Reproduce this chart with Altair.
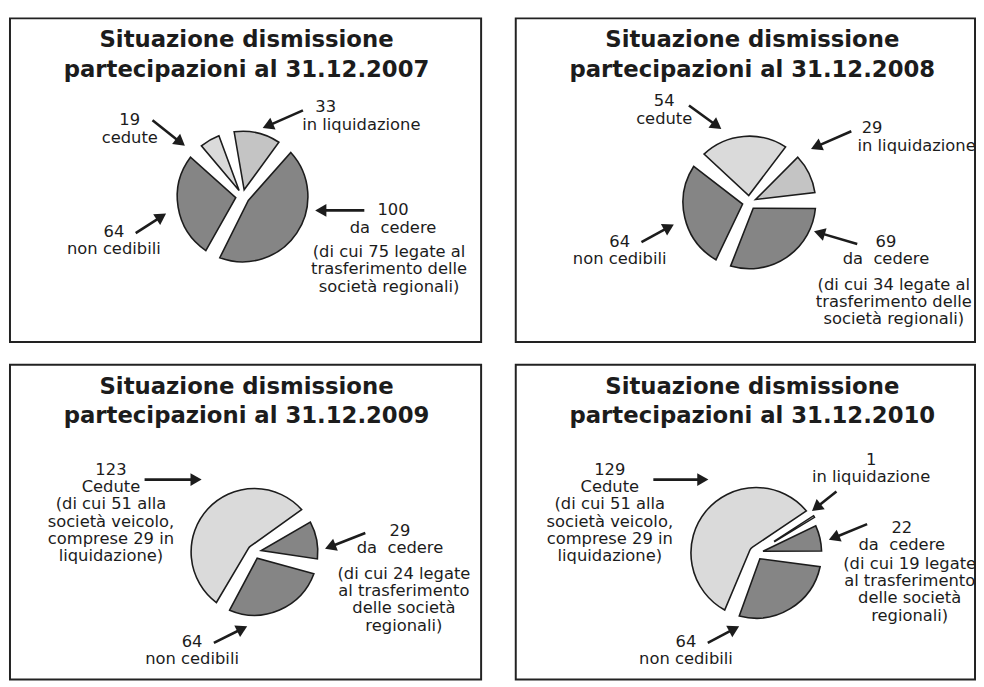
import math
import altair as alt
import pandas as pd

# ---------------- data ----------------
categories = ["cedute", "in liquidazione", "da cedere", "non cedibili"]
years = ["2007", "2008", "2009", "2010"]
values = {
    "2007": [19, 33, 100, 64],
    "2008": [54, 29, 69, 64],
    "2009": [123, 0, 29, 64],
    "2010": [129, 1, 22, 64],
}
grays = ["#dadada", "#c4c4c4", "#858585", "#858585"]

# ---------------- layout / annotation (pixels, panel-local) ----------------
PW, PH_TOP, PH_BOT = 476, 327, 318
COL2_W = 464
start_deg = {"2007": -46, "2008": -50, "2009": -150, "2010": -158}
pie_center = {"2007": (235, 180), "2008": (236, 186), "2009": (247, 189), "2010": (243, 190)}
pie_radius = {"2007": 66, "2008": 67, "2009": 64, "2010": 66}

DC = "da\u00a0 cedere"
labels = {
    "2007": [
        (121, 103, "19\ncedute"),
        (319, 90, "33"),
        (355, 108, "in liquidazione"),
        (387, 194, "100\n" + DC),
        (383, 236, "(di cui 75 legate al\ntrasferimento delle\nsocietà regionali)"),
        (105, 216, "64\nnon cedibili"),
    ],
    "2008": [
        (150, 84, "54\ncedute"),
        (360, 111, "29"),
        (405, 129, "in liquidazione"),
        (374, 226, "69\n" + DC),
        (382, 269, "(di cui 34 legate al\ntrasferimento delle\nsocietà regionali)"),
        (105, 226, "64\nnon cedibili"),
    ],
    "2009": [
        (102, 106, "123\nCedute\n(di cui 51 alla\nsocietà veicolo,\ncomprese 29 in\nliquidazione)"),
        (394, 168, "29\n" + DC),
        (398, 211, "(di cui 24 legate\nal trasferimento\ndelle società\nregionali)"),
        (184, 280, "64\nnon cedibili"),
    ],
    "2010": [
        (95, 106, "129\nCedute\n(di cui 51 alla\nsocietà veicolo,\ncomprese 29 in\nliquidazione)"),
        (359, 96, "1\nin liquidazione"),
        (390, 165, "22\n" + DC),
        (398, 201, "(di cui 19 legate\nal trasferimento\ndelle società\nregionali)"),
        (172, 280, "64\nnon cedibili"),
    ],
}

arrows = {  # tail x, tail y, head x, head y
    "2007": [(144, 103, 177, 129), (296, 93, 255, 111), (358, 194, 308, 194), (127, 217, 158, 197)],
    "2008": [(175, 88, 208, 112), (339, 114, 298, 132), (345, 228, 301, 215), (127, 226, 160, 208)],
    "2009": [(136, 116, 194, 116), (359, 170, 318, 186), (206, 281, 240, 264)],
    "2010": [(139, 116, 195, 116), (324, 128, 299, 148), (355, 161, 316, 177), (194, 281, 226, 264)],
}

FONT = "DejaVu Sans"
INK = "#1c1c1c"


def panel(year, width, height):
    df = pd.DataFrame({"category": categories, "value": values[year], "order": range(4)})
    cx, cy = pie_center[year]
    s = math.radians(start_deg[year])
    R = pie_radius[year]

    base = alt.Chart(df).transform_window(
        cum="sum(value)", sort=[alt.SortField("order")], frame=[None, 0]
    ).transform_calculate(start="datum.cum - datum.value")

    enc = dict(
        theta=alt.Theta("start:Q", scale=alt.Scale(domain=[0, sum(values[year])], range=[s, s + 2 * math.pi])),
        theta2="cum:Q",
        color=alt.Color("category:N", scale=alt.Scale(domain=categories, range=grays), legend=None),
        x=alt.value(cx),
        y=alt.value(cy),
    )

    pie = base.transform_filter("datum.value >= 3").mark_arc(
        outerRadius=R, innerRadius=7, padAngle=0.24, stroke=INK, strokeWidth=1.6,
        strokeJoin="miter",
    ).encode(**enc)

    sliver = base.transform_filter("datum.value > 0 && datum.value < 3").mark_arc(
        outerRadius=R + 3, innerRadius=22, stroke=INK, strokeWidth=1.4,
    ).encode(**enc)

    title = alt.Chart(pd.DataFrame({"t": [f"Situazione dismissione\npartecipazioni al 31.12.{year}"]})).mark_text(
        font=FONT, fontSize=23, fontWeight="bold", color=INK, lineBreak="\n", lineHeight=30,
        baseline="top", align="center",
    ).encode(text="t:N", x=alt.value(PW / 2 + 1), y=alt.value(11))

    xs = alt.Scale(domain=[0, width], range=[0, width])
    ys = alt.Scale(domain=[0, height], range=[0, height])

    lab_df = pd.DataFrame(labels[year], columns=["lx", "ly", "txt"])
    lab = alt.Chart(lab_df).mark_text(
        font=FONT, fontSize=16.5, color=INK, lineBreak="\n", lineHeight=17.5,
        baseline="middle", align="center", clip=True,
    ).encode(
        text="txt:N",
        x=alt.X("lx:Q", scale=xs, axis=None),
        y=alt.Y("ly:Q", scale=ys, axis=None),
    )

    arr = []
    for (x1, y1, x2, y2) in arrows[year]:
        dx, dy = x2 - x1, y2 - y1
        L = math.hypot(dx, dy)
        ux, uy = dx / L, dy / L
        ang = (math.degrees(math.atan2(dx, -dy)) + 360) % 360
        arr.append({"x1": x1, "y1": y1, "hx": x2 - ux * 6, "hy": y2 - uy * 6, "ang": ang})
    arr_df = pd.DataFrame(arr)
    shaft = alt.Chart(arr_df).mark_rule(color=INK, strokeWidth=2.6).encode(
        x=alt.X("x1:Q", scale=xs, axis=None), y=alt.Y("y1:Q", scale=ys, axis=None),
        x2="hx:Q", y2="hy:Q",
    )
    head = alt.Chart(arr_df).mark_point(shape="triangle-up", filled=True, color=INK, opacity=1, size=170).encode(
        x=alt.X("hx:Q", scale=xs, axis=None), y=alt.Y("hy:Q", scale=ys, axis=None),
        angle=alt.Angle("ang:Q", scale=None),
    )

    return alt.layer(pie, sliver, shaft, head, lab, title).properties(width=width, height=height)


row1 = alt.hconcat(panel("2007", PW, PH_TOP), panel("2008", COL2_W, PH_TOP), spacing=33)
row2 = alt.hconcat(panel("2009", PW, PH_BOT), panel("2010", COL2_W, PH_BOT), spacing=33)

chart = alt.vconcat(row1, row2, spacing=21).properties(
    padding={"left": 1, "top": 6, "right": 0, "bottom": 0},
    background="white",
).configure_view(
    stroke="#222222", strokeWidth=2
).configure_concat(spacing=21)

chart.save("out.html", embed_options={"renderer": "svg", "actions": False})
